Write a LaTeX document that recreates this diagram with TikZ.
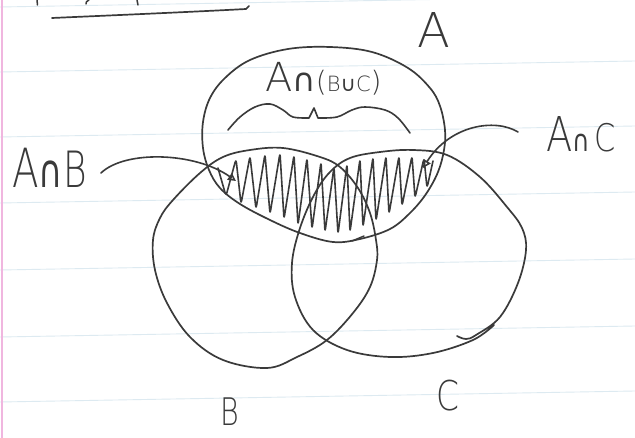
\documentclass[tikz,border=0pt]{standalone}
\usepackage{fontspec}
\newfontfamily\hand{DejaVu Sans ExtraLight}
\newfontfamily\handsym{DejaVu Sans}
\usetikzlibrary{arrows.meta}
\definecolor{inkc}{HTML}{3A3A3A}
\definecolor{rulec}{HTML}{DDEAF1}
\definecolor{marginc}{HTML}{F0B6DF}
\begin{document}
\begin{tikzpicture}[x=1pt,y=-1pt,line cap=round,line join=round,
  ink/.style={draw=inkc,line width=1.7pt},
  scribble/.style={draw=inkc,line width=1.6pt,rounded corners=3.5pt},
  arr/.style={draw=inkc,line width=1.6pt,-{Triangle[open,length=8pt,width=8pt]}},
  lbl/.style={text=inkc,inner sep=0pt,anchor=base west}]
\fill[white] (0,0) rectangle (635,438);
\useasboundingbox (0,0) rectangle (635,438);
% ruled paper
\foreach \yy in {7,72,137,203,270,337,402}
  \draw[rulec,line width=0.9pt] (0,\yy) -- (635,\yy-11);
\draw[marginc,line width=1.2pt] (2,0) -- (2,438);
% cut-off strokes at the top and underline
\draw[ink,line width=1.5pt] (37,0) -- (37.5,5);
\draw[ink,line width=1.5pt] (89,0) .. controls (86,2) .. (86,4);
\draw[ink,line width=1.5pt] (137,0) -- (138,5);
\draw[ink] (52,18) .. controls (120,15) and (190,12) .. (246,9) -- (249,6);
% set A
\draw[ink] plot[smooth cycle,tension=0.6] coordinates {(330,47) (372,52) (408,68) (430,88) (440,106) (445,130) (444,150) (438,172) (426,194) (410,213) (390,229) (360,239) (333,242) (300,233) (270,220) (240,204) (220,188) (209,170) (203,148) (203,122) (210,98) (225,78) (250,60) (288,49)};
\draw[ink,line width=1.4pt] (352,241) -- (364,236);
% set B
\draw[ink] plot[smooth cycle,tension=0.6] coordinates {(250,150) (283,148) (320,157) (340,167) (358,188) (370,213) (376,240) (377,260) (370,287) (353,313) (327,340) (297,357) (267,368) (223,360) (190,337) (167,303) (155,270) (153,240) (160,218) (173,200) (200,173) (223,157)};
% set C (open, overlapping stroke at lower right)
\draw[ink] plot[smooth,tension=0.6] coordinates {(457,336) (466,339) (476,335) (500,317) (518,283) (526,250) (522,228) (507,207) (480,177) (447,155) (413,150) (380,152) (350,158) (330,172) (314,195) (300,228) (292,263) (295,297) (313,330) (347,350) (390,357) (433,353) (473,340) (494,325)};
% shading of A cap (B cup C)
\draw[scribble] (218,168) -- (226,196) -- (236,159) -- (241,204) -- (250,156) -- (256,209) -- (265,154) -- (270,214) -- (280,153) -- (284,219) -- (294,155) -- (298,225) -- (307,158) -- (312,229) -- (321,162) -- (325,232) -- (334,167) -- (338,234) -- (347,164) -- (350,232) -- (360,159) -- (363,227) -- (373,157) -- (376,221) -- (386,156) -- (389,214) -- (399,156) -- (402,206) -- (412,156) -- (415,198) -- (424,158) -- (427,188) -- (433,161);
% brace under the label
\draw[ink,line width=1.6pt] plot[smooth,tension=0.6] coordinates {(228,130) (240,117) (255,107) (270,104) (283,110) (293,117) (309,118)} -- (314,108) -- (318,118) -- plot[smooth,tension=0.6] coordinates {(318,118) (337,117) (352,110) (365,107) (385,110) (398,118) (410,133)};
% labels
\node[lbl,font=\hand\fontsize{48}{48}\selectfont] (lA) at (417,48) {A};
\node[lbl] (lABC) at (265,92) {{\hand\fontsize{40}{40}\selectfont A}{\handsym\fontsize{32}{32}\selectfont ∩}{\hand\fontsize{28}{28}\selectfont (}{\hand\fontsize{21}{21}\selectfont B}{\handsym\fontsize{21}{21}\selectfont ∪}{\hand\fontsize{21}{21}\selectfont C}{\hand\fontsize{28}{28}\selectfont )}};
\node[lbl] (lAB) at (12,188) {\scalebox{0.72}[1]{{\hand\fontsize{54}{54}\selectfont A}{\handsym\fontsize{46}{46}\selectfont ∩}{\hand\fontsize{50}{50}\selectfont B}}};
\node[lbl] (lAC) at (546,152) {\scalebox{0.8}[1]{{\hand\fontsize{48}{48}\selectfont A}{\handsym\fontsize{30}{30}\selectfont ∩\,}{\hand\fontsize{38}{38}\selectfont C}}};
\node[lbl] (lB) at (220,426) {\scalebox{0.75}[1]{\hand\fontsize{38}{38}\selectfont B}};
\node[lbl] (lC) at (436,410) {\scalebox{0.8}[1]{\hand\fontsize{41}{41}\selectfont C}};
% arrows
\coordinate (abstart) at (101,173);
\coordinate (abtip) at (236,181);
\coordinate (acstart) at (518,132);
\coordinate (actip) at (423,168);
\draw[arr] (abstart) .. controls (125,150) and (195,152) .. (abtip);
\draw[arr] (acstart) .. controls (495,118) and (450,125) .. (actip);
\end{tikzpicture}
\end{document}
